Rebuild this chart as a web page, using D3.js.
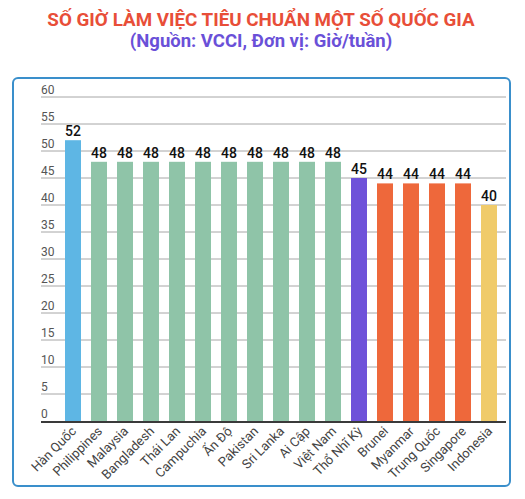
<!DOCTYPE html>
<html><head><meta charset="utf-8">
<script src="https://cdn.jsdelivr.net/npm/d3@7"></script>
<style>body{margin:0;background:#fff;} svg{display:block;font-family:Roboto,"Noto Sans",sans-serif;}</style>
</head><body>
<svg id="c" width="525" height="499"></svg>
<script>
const categories = ["Hàn Quốc","Philippines","Malaysia","Bangladesh","Thái Lan","Campuchia","Ấn Độ","Pakistan","Sri Lanka","Ai Cập","Việt Nam","Thổ Nhĩ Kỳ","Brunei","Myanmar","Trung Quốc","Singapore","Indonesia"];
const values = [52,48,48,48,48,48,48,48,48,48,48,45,44,44,44,44,40];
const colors = ["#5eb6e4","#8fc4a8","#8fc4a8","#8fc4a8","#8fc4a8","#8fc4a8","#8fc4a8","#8fc4a8","#8fc4a8","#8fc4a8","#8fc4a8","#6e52d9","#ee683b","#ee683b","#ee683b","#ee683b","#f0cb6a"];
const yTicks = [0,5,10,15,20,25,30,35,40,45,50,55,60];
const title = "SỐ GIỜ LÀM VIỆC TIÊU CHUẨN MỘT SỐ QUỐC GIA";
const subtitle = "(Nguồn: VCCI, Đơn vị: Giờ/tuần)";

const svg = d3.select("#c");
svg.append("text").attr("x",261).attr("y",26).attr("text-anchor","middle")
  .attr("font-size",18.8).attr("font-weight","bold").attr("fill","#e84e38").text(title);
svg.append("text").attr("x",261).attr("y",47).attr("text-anchor","middle")
  .attr("font-size",18.5).attr("font-weight","bold").attr("fill","#6a50d8").text(subtitle);

svg.append("rect").attr("x",13).attr("y",78).attr("width",497).attr("height",408)
  .attr("rx",5).attr("fill","none").attr("stroke","#3a8fcb").attr("stroke-width",2);

const gx0 = 41, gx1 = 506;
const y = d3.scaleLinear().domain([0,60]).range([421,97]);
const x = d3.scaleBand().domain(categories).range([65,497]).paddingInner(10/26).paddingOuter(0);

const gy = svg.append("g");
yTicks.forEach(t => {
  if (t>0) gy.append("line").attr("x1",gx0).attr("x2",gx1).attr("y1",y(t)).attr("y2",y(t))
    .attr("stroke","#a6a6a6").attr("stroke-width",1);
  gy.append("text").attr("x",gx0).attr("y",y(t)-3).attr("font-size",12).attr("fill","#555").text(t);
});

svg.append("g").selectAll("rect").data(values).join("rect")
  .attr("x",(d,i)=>x(categories[i])).attr("width",x.bandwidth())
  .attr("y",d=>y(d)).attr("height",d=>y(0)-y(d)).attr("fill",(d,i)=>colors[i]);

svg.append("line").attr("x1",gx0).attr("x2",gx1).attr("y1",y(0)+1).attr("y2",y(0)+1)
  .attr("stroke","#3a3a3a").attr("stroke-width",2);

svg.append("g").selectAll("text").data(values).join("text")
  .attr("x",(d,i)=>x(categories[i])+x.bandwidth()/2).attr("y",d=>y(d)-4)
  .attr("text-anchor","middle").attr("font-size",14).attr("font-weight","500").attr("fill","#111")
  .text(d=>d);

svg.append("g").selectAll("text").data(categories).join("text")
  .attr("transform",c=>`translate(${x(c)+x.bandwidth()/2+4},${432}) rotate(-45)`)
  .attr("text-anchor","end").attr("font-size",13).attr("fill","#444").text(c=>c);
</script>
</body></html>
